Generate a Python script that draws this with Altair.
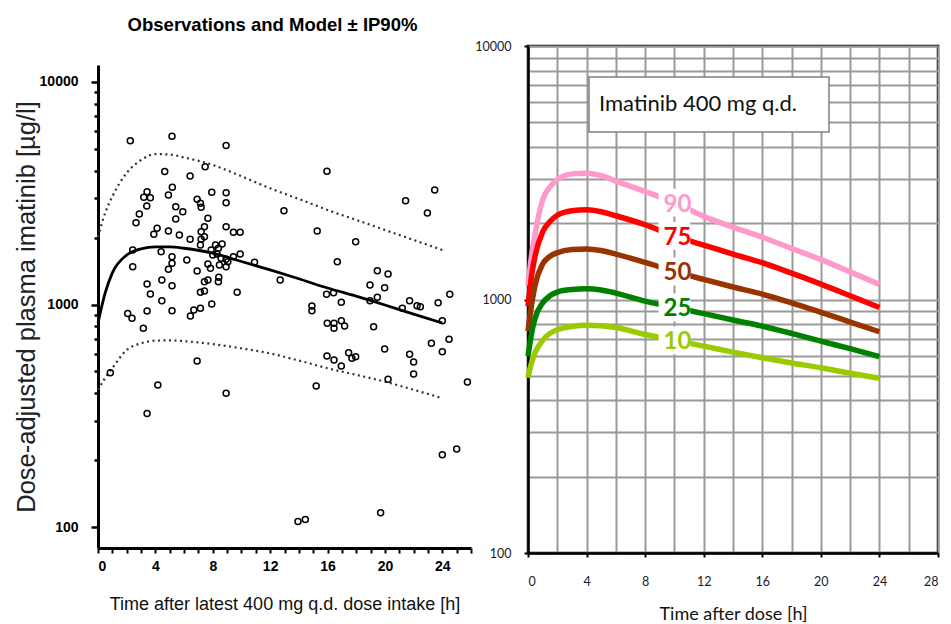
import altair as alt
import pandas as pd

# ---------------- Left panel: observations (time [h], concentration [ug/l]) -------------
obs_time = [2.25, 5.16, 8.93, 15.96, 7.47, 4.65, 6.42, 23.47, 21.44, 22.96, 12.96, 3.42, 3.19, 3.65,
            3.40, 5.18, 4.91, 5.42, 5.91, 5.42, 2.88, 2.65, 6.91, 7.14, 7.19, 7.93, 8.93, 8.93, 7.66,
            7.42, 8.93, 9.44, 9.91, 15.28, 17.96, 4.12, 3.89, 4.91, 5.67, 6.42, 7.19, 7.19, 7.42, 7.14,
            2.42, 4.40, 5.16, 5.16, 6.19, 7.89, 8.19, 8.39, 8.65, 8.30, 8.00, 8.58, 8.93, 8.93, 9.05,
            9.44, 9.91, 7.66, 7.84, 8.46, 7.42, 7.66, 8.42, 8.39, 10.91, 2.42, 4.91, 6.91, 4.45, 3.42,
            5.16, 3.65, 12.70, 16.68, 19.47, 20.22, 18.96, 19.98, 19.47, 18.96, 15.93, 16.42, 16.96,
            24.52, 21.72, 22.24, 22.47, 23.71, 21.21, 7.14, 7.42, 9.70, 4.45, 5.16, 3.42, 2.07, 2.37,
            6.44, 6.68, 7.14, 7.93, 14.91, 14.91, 24.00, 3.16, 15.98, 16.45, 16.45, 16.96, 17.19,
            19.21, 19.98, 23.24, 24.47, 24.00, 15.96, 16.45, 16.96, 17.47, 17.70, 17.96, 21.72, 22.00,
            22.00, 20.22, 15.21, 25.75, 0.86, 6.91, 4.17, 3.42, 8.93, 24.00, 25.00, 13.94, 14.45, 19.70]
obs_conc = [5450, 5700, 5185, 3970, 4160, 3955, 3780, 3270, 2927, 2577, 2640, 3214, 3033, 3020,
            2772, 3363, 3105, 2751, 2612, 2423, 2551, 2332, 2970, 2850, 2735, 3193, 3180, 2867, 2440,
            2237, 2237, 2111, 2111, 2140, 1915, 2200, 2068, 2140, 2053, 1963, 2125, 1963, 2018, 1851,
            1758, 1727, 1640, 1531, 1585, 1758, 1851, 1790, 1870, 1686, 1669, 1613, 1596, 1479, 1557,
            1640, 1686, 1520, 1455, 1505, 1266, 1288, 1325, 1266, 1549, 1479, 1440, 1414, 1288, 1236,
            1215, 1114, 1288, 1557, 1419, 1371, 1224, 1190, 1078, 1040, 1112, 1130, 1023,
            1112, 1040, 988, 977, 1019, 961, 1135, 1150, 1135, 1040, 938, 935, 912, 867,
            888, 944, 961, 1005, 985, 938, 846, 782, 823, 823, 782, 846, 801,
            795, 631, 670, 698, 614, 587, 563, 529, 607, 573, 583, 597, 552,
            487, 462, 430, 449, 494, 557, 435, 324, 399, 211, 224, 106, 108, 116]

# Model (median) and 90% prediction interval
model_time = [0, 0.5, 1, 2, 3, 4, 5, 6, 8, 10, 12, 14, 16, 18, 20, 22, 24]
model_median = [826, 1127, 1387, 1668, 1780, 1815, 1815, 1790, 1703, 1560, 1430, 1305, 1186, 1090, 995, 905, 826]
model_upper = [2016, 2577, 3056, 3900, 4460, 4740, 4720, 4580, 4237, 3770, 3328, 2980, 2658, 2400, 2163, 1950, 1758]
model_lower = [413, 468, 518, 625, 669, 688, 690, 684, 664, 635, 603, 560, 517, 483, 450, 414, 379]

# ---------------- Right panel: percentile curves -------------
pct_time = [0, 0.25, 0.5, 1, 1.5, 2, 3, 4, 5, 6, 8, 10, 12, 14, 16, 18, 20, 22, 24]
p90 = [1130, 1500, 1835, 2475, 2780, 2970, 3130, 3150, 3080, 2930, 2668, 2410, 2128, 1930, 1760, 1590, 1437, 1285, 1145]
p75 = [941, 1250, 1500, 1850, 2030, 2150, 2240, 2260, 2220, 2140, 1972, 1780, 1640, 1510, 1397, 1270, 1150, 1035, 930]
p50 = [750, 960, 1150, 1380, 1480, 1530, 1575, 1583, 1560, 1510, 1400, 1290, 1200, 1120, 1050, 970, 890, 815, 746]
p25 = [598, 740, 850, 970, 1035, 1070, 1095, 1102, 1090, 1060, 985, 930, 880, 830, 785, 735, 685, 640, 595]
p10 = [492, 565, 620, 690, 735, 760, 783, 792, 788, 775, 728, 690, 655, 620, 589, 562, 538, 512, 489]
pct_names = ["90", "75", "50", "25", "10"]
pct_colors = ["#FF99CC", "#FF0000", "#993300", "#008000", "#99CC00"]
label_time = 10
box_text = "Imatinib 400 mg q.d."

# tick / grid values
left_x_ticks = list(range(0, 27))
left_y_ticks = [100, 200, 300, 400, 500, 600, 700, 800, 900,
                1000, 2000, 3000, 4000, 5000, 6000, 7000, 8000, 9000, 10000]
right_x_ticks = list(range(0, 29, 2))
right_y_ticks = left_y_ticks

SANS = "Liberation Sans, Arial, sans-serif"
CAL = "Lato, Open Sans, sans-serif"

obs_df = pd.DataFrame({"t": obs_time, "c": obs_conc})
model_df = pd.DataFrame({"t": model_time, "med": model_median, "hi": model_upper, "lo": model_lower})

rows = []
for name, vals in zip(pct_names, [p90, p75, p50, p25, p10]):
    for t, v in zip(pct_time, vals):
        rows.append({"t": t, "v": v, "pct": name})
pct_df = pd.DataFrame(rows)

# ---------------- Left chart -------------
lx_axis = alt.Axis(
    values=left_x_ticks,
    labelExpr="datum.value % 4 == 0 && datum.value <= 24 ? datum.label : ''",
    tickSize=5,
    tickWidth=2, tickColor="black",
    domainColor="black", domainWidth=3,
    labelFont=SANS, labelFontSize=14, labelFontWeight="bold", labelColor="black",
    labelPadding=6, grid=False,
    title="Time after latest 400 mg q.d. dose intake [h]",
    titleFont=SANS, titleFontSize=18, titleFontWeight="normal", titleColor="#111",
    titlePadding=22,
)
ly_axis = alt.Axis(
    values=left_y_ticks, format="d",
    labelExpr="datum.value == 100 || datum.value == 1000 || datum.value == 10000 ? datum.label : ''",
    tickSize={"condition": {"test": "datum.value == 100 || datum.value == 1000 || datum.value == 10000", "value": 7}, "value": 4},
    tickWidth=2.5, tickColor="black",
    domainColor="black", domainWidth=3,
    labelFont=SANS, labelFontSize=14, labelFontWeight="bold", labelColor="black",
    labelPadding=13, grid=False,
    title="Dose-adjusted plasma imatinib [µg/l]",
    titleFont=SANS, titleFontSize=25.5, titleFontWeight="normal",
    titleColor="#222", titlePadding=0,
)
lx = alt.X("t:Q", scale=alt.Scale(domain=[0, 26], nice=False), axis=lx_axis)
ly_scale = alt.Scale(type="log", domain=[80.5, 11920], range=[502, 19], nice=False)

points = alt.Chart(obs_df).mark_point(shape="circle", filled=False, color="black",
                                       strokeWidth=1.5, size=36, opacity=1).encode(
    x=lx, y=alt.Y("c:Q", scale=ly_scale, axis=ly_axis))
median_line = alt.Chart(model_df).mark_line(color="black", strokeWidth=2.8, interpolate="monotone").encode(
    x=lx, y=alt.Y("med:Q", scale=ly_scale, axis=ly_axis))
upper_line = alt.Chart(model_df).mark_line(color="#333", strokeWidth=2.2, strokeDash=[2, 3.5],
                                           interpolate="monotone").encode(
    x=lx, y=alt.Y("hi:Q", scale=ly_scale, axis=ly_axis))
lower_line = alt.Chart(model_df).mark_line(color="#333", strokeWidth=2.2, strokeDash=[2, 3.5],
                                           interpolate="monotone").encode(
    x=lx, y=alt.Y("lo:Q", scale=ly_scale, axis=ly_axis))

left = alt.layer(lower_line, upper_line, median_line, points).properties(
    width=373, height=502,
    title=alt.TitleParams("Observations and Model ± IP90%", font=SANS, fontSize=18.5,
                          fontWeight="bold", color="black", anchor="middle", frame="group",
                          dx=-12, offset=12),
)

# ---------------- Right chart -------------
rx_axis = alt.Axis(
    values=right_x_ticks,
    labelExpr="datum.value % 4 == 0 ? datum.label : ''",
    tickSize={"condition": {"test": "datum.value % 4 == 0", "value": 4}, "value": 0},
    tickWidth=2, tickColor="black",
    domainColor="black", domainWidth=2.5,
    grid=True, gridColor="#9a9a9a", gridWidth=2,
    labelFont=CAL, labelFontSize=12.5, labelColor="#1a1a2a", labelPadding=18,
    title="Time after dose  [h]", titleFont=CAL, titleFontSize=18, titleFontWeight="normal",
    titleColor="#111", titlePadding=18,
)
ry_axis = alt.Axis(
    values=right_y_ticks, format="d",
    labelExpr="datum.value == 100 || datum.value == 1000 || datum.value == 10000 ? datum.label : ''",
    tickSize={"condition": {"test": "datum.value == 100 || datum.value == 1000 || datum.value == 10000", "value": 4}, "value": 0},
    tickWidth=2, tickColor="black",
    domainColor="black", domainWidth=2.5,
    grid=True, gridColor="#9a9a9a", gridWidth=2,
    labelFont=CAL, labelFontSize=12.5, labelColor="#1a1a2a", labelPadding=13,
    title=None,
)
rx = alt.X("t:Q", scale=alt.Scale(domain=[0, 28], nice=False), axis=rx_axis)
ry = alt.Y("v:Q", scale=alt.Scale(type="log", domain=[100, 10000], nice=False), axis=ry_axis)
color = alt.Color("pct:N", scale=alt.Scale(domain=pct_names, range=pct_colors), legend=None)

curves = alt.Chart(pct_df).mark_line(strokeWidth=5.5, interpolate="monotone").encode(
    x=rx, y=ry, color=color, detail="pct:N")
label_bg = alt.Chart(pct_df).transform_filter(f"datum.t == {label_time}").mark_point(
    shape="M-1,-0.88L1,-0.88L1,0.88L-1,0.88Z", filled=True, color="white", opacity=1,
    size=1000).encode(x=rx, y=ry)
labels = alt.Chart(pct_df).transform_filter(f"datum.t == {label_time}").mark_text(
    font=CAL, fontSize=24, fontWeight="bold", dx=3, dy=2).encode(
    x=rx, y=ry, text="pct:N", color=color)

box_df = pd.DataFrame({"label": [box_text]})
box = alt.Chart(box_df).mark_rect(fill="white", stroke="#808080", strokeWidth=1.5).encode(
    x=alt.value(61), x2=alt.value(301), y=alt.value(31), y2=alt.value(86))
box_label = alt.Chart(box_df).mark_text(font=CAL, fontSize=22, align="left", baseline="middle",
                                        color="#111").encode(
    x=alt.value(71), y=alt.value(58), text="label:N")

right = alt.layer(curves, label_bg, labels, box, box_label).properties(
    width=410, height=507,
    view=alt.ViewBackground(stroke="black", strokeWidth=2.5),
)

chart = alt.hconcat(left, right, spacing=57, bounds="flush").properties(
    padding={"left": 14, "top": 15, "right": 0, "bottom": 0},
    background="white",
).configure_view(stroke=None)

chart.save("out.html", embed_options={"renderer": "svg", "actions": False})
